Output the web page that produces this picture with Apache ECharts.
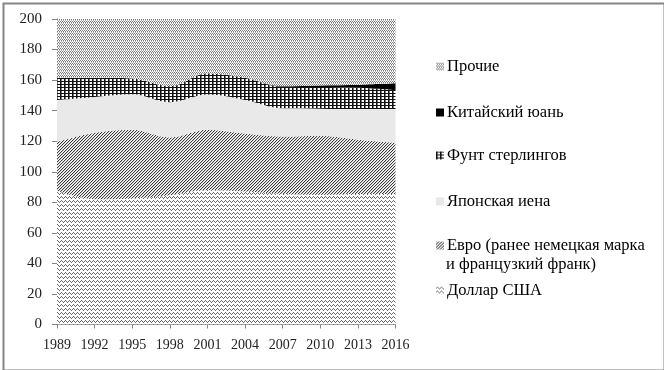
<!DOCTYPE html>
<html><head><meta charset="utf-8">
<script src="https://cdn.jsdelivr.net/npm/echarts@6/dist/echarts.min.js"></script>
<style>html,body{margin:0;padding:0;background:#fff}#c{width:664px;height:370px}</style>
</head><body><div id="c"></div>
<script>
const years = ['1989','1992','1995','1998','2001','2004','2007','2010','2013','2016'];
const usd   = [87.5,82,82.5,84.6,88,87,85.5,85,85.5,85.5];
const eur   = [32,43.5,45,37.9,39.5,38,37.5,38.5,35.5,33.5];
const jpy   = [27.5,23.5,23.2,23,23,22,18.5,17.8,20,22];
const gbp   = [14.3,12.5,10.3,10.5,14,14.5,14,14.2,14,12.5];
const cny   = [0,0,0,0,0,0,0.4,1,2,4.5];
const other = [38.7,38.5,39,44,35.5,38.5,44.1,43.5,43,42];
const names = ['Доллар США','Евро (ранее немецкая марка и французкий франк)','Японская иена','Фунт стерлингов','Китайский юань','Прочие'];
const yTicks = [0,200,20];

function pat(w,h,bg,layers){
  const c=document.createElement('canvas');c.width=w;c.height=h;
  const g=c.getContext('2d');g.fillStyle=bg;g.fillRect(0,0,w,h);
  layers.forEach(l=>{g.fillStyle=l[0];l[1].forEach(p=>g.fillRect(p[0],p[1],1,1));});
  return {image:c,repeat:'repeat'};
}
const fills = [
  pat(4,4,'#fff',[['#6a6a6a',[[0,1],[1,0],[2,1],[3,2]]]]),
  pat(3,3,'#fff',[['#3c3c3c',[[2,0],[1,1],[0,2]]],['#d0d0d0',[[0,0],[2,1],[1,2]]]]),
  '#e9e9e9',
  pat(4,3,'#fff',[['#111',[[0,0],[1,0],[2,0],[3,0],[0,1],[0,2]]],['#777',[[1,1],[1,2]]]]),
  '#000',
  pat(4,3,'#fff',[['#7a7a7a',[[0,0],[1,1],[2,0],[3,1]]],['#b5b5b5',[[1,2],[3,2]]]])
];
const vals=[usd,eur,jpy,gbp,cny,other];
const series = names.map((n,i)=>({
  name:n,type:'line',stack:'all',smooth:0.35,showSymbol:false,symbol:'none',
  lineStyle:{width:0},itemStyle:{color:'#888'},
  areaStyle:{color:fills[i],opacity:1},
  data: vals[i]
}));
const font='"Liberation Serif","Times New Roman",serif';
const legCenters=[292,247,203,157,114,68];
const legends = names.map((n,i)=>({
  data:[{name:n,icon:'rect',itemStyle:{color:fills[i]}}],
  orient:'vertical',left:436,top:legCenters[i]-10,padding:0,
  itemWidth:8,itemHeight:8,itemGap:4,selectedMode:false,
  formatter: i===1 ? 'Евро (ранее немецкая марка' : n,
  textStyle:{fontFamily:font,fontSize:16.5,color:'#000',padding:[0,0,0,-2]}
}));
const chart=echarts.init(document.getElementById('c'),null,{renderer:'canvas'});
chart.setOption({
  animation:false,
  backgroundColor:'#fff',
  grid:{left:57,right:268.5,top:19,bottom:45.5},
  legend:legends,
  xAxis:{type:'category',data:years,boundaryGap:false,
    axisLine:{lineStyle:{color:'#868686'}},axisTick:{show:true,length:4,lineStyle:{color:'#868686'}},
    splitLine:{show:false},
    axisLabel:{interval:0,fontFamily:font,fontSize:14,color:'#222',margin:14}},
  yAxis:{type:'value',min:yTicks[0],max:yTicks[1],interval:yTicks[2],
    axisLine:{show:true,lineStyle:{color:'#868686'}},axisTick:{show:true,length:5,lineStyle:{color:'#868686'}},
    splitLine:{show:false},
    axisLabel:{fontFamily:font,fontSize:15,color:'#222',margin:15}},
  series:series,
  graphic:[
    {type:'rect',left:1,top:1,shape:{width:661,height:367},style:{fill:'none',stroke:'#858585',lineWidth:2},silent:true,z:100},
    {type:'text',left:446,top:256,style:{text:'и французкий франк)',font:'16.5px '+font,fill:'#000'}}
  ]
});
</script></body></html>
